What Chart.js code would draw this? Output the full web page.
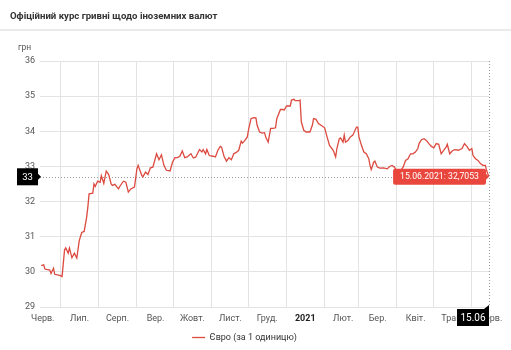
<!DOCTYPE html>
<html lang="uk">
<head>
<meta charset="utf-8">
<title>Офіційний курс гривні щодо іноземних валют</title>
<script src="https://cdn.jsdelivr.net/npm/chart.js@4.4.1/dist/chart.umd.min.js"></script>
<style>
  html, body { margin: 0; padding: 0; background: #fff; }
  body { width: 511px; height: 350px; position: relative; overflow: hidden; font-family: Roboto, sans-serif; }
  .title { position: absolute; left: 10px; top: 10px; font-size: 9.6px; font-weight: 700; color: #333; white-space: nowrap; }
  .sep { position: absolute; left: 0; right: 0; top: 29px; height: 2px; background: #ebebeb; }
  .unit { position: absolute; left: 18px; top: 42px; font-size: 8.5px; color: #555; }
  .wrap { position: absolute; left: 0; top: 0; width: 511px; height: 350px; }
</style>
</head>
<body>
<div class="wrap"><canvas id="rateChart"></canvas></div>
<div class="title">Офіційний курс гривні щодо іноземних валют</div>
<div class="sep"></div>
<div class="unit">грн</div>
<script>
// Курс євро, грн за 1 одиницю
const rateDates = [
  "2020-06-15", "2020-06-17", "2020-06-18", "2020-06-22", "2020-06-23", "2020-06-25", "2020-06-26", "2020-06-30",
  "2020-07-02", "2020-07-04", "2020-07-05", "2020-07-07", "2020-07-08", "2020-07-10", "2020-07-12", "2020-07-14",
  "2020-07-16", "2020-07-18", "2020-07-20", "2020-07-22", "2020-07-23", "2020-07-24", "2020-07-27", "2020-07-28",
  "2020-07-29", "2020-07-31", "2020-08-02", "2020-08-03", "2020-08-05", "2020-08-07", "2020-08-09", "2020-08-11",
  "2020-08-12", "2020-08-14", "2020-08-17", "2020-08-18", "2020-08-21", "2020-08-23", "2020-08-25", "2020-08-27",
  "2020-08-30", "2020-09-01", "2020-09-02", "2020-09-05", "2020-09-06", "2020-09-08", "2020-09-10", "2020-09-12",
  "2020-09-14", "2020-09-17", "2020-09-19", "2020-09-21", "2020-09-23", "2020-09-25", "2020-09-28", "2020-09-30",
  "2020-10-02", "2020-10-04", "2020-10-06", "2020-10-08", "2020-10-10", "2020-10-12", "2020-10-15", "2020-10-17",
  "2020-10-19", "2020-10-22", "2020-10-24", "2020-10-25", "2020-10-27", "2020-10-28", "2020-10-30", "2020-11-02",
  "2020-11-04", "2020-11-06", "2020-11-08", "2020-11-09", "2020-11-11", "2020-11-13", "2020-11-15", "2020-11-17",
  "2020-11-19", "2020-11-21", "2020-11-23", "2020-11-25", "2020-11-26", "2020-11-28", "2020-11-30", "2020-12-01",
  "2020-12-03", "2020-12-05", "2020-12-07", "2020-12-08", "2020-12-10", "2020-12-12", "2020-12-14", "2020-12-15",
  "2020-12-17", "2020-12-19", "2020-12-21", "2020-12-23", "2020-12-24", "2020-12-27", "2020-12-29", "2020-12-30",
  "2021-01-01", "2021-01-04", "2021-01-05", "2021-01-07", "2021-01-08", "2021-01-11", "2021-01-12", "2021-01-13",
  "2021-01-15", "2021-01-17", "2021-01-20", "2021-01-22", "2021-01-23", "2021-01-25", "2021-01-27", "2021-01-30",
  "2021-02-01", "2021-02-03", "2021-02-05", "2021-02-08", "2021-02-10", "2021-02-11", "2021-02-13", "2021-02-14",
  "2021-02-16", "2021-02-17", "2021-02-18", "2021-02-20", "2021-02-22", "2021-02-24", "2021-02-27", "2021-02-28",
  "2021-03-01", "2021-03-03", "2021-03-05", "2021-03-07", "2021-03-09", "2021-03-10", "2021-03-11", "2021-03-13",
  "2021-03-14", "2021-03-16", "2021-03-18", "2021-03-21", "2021-03-24", "2021-03-26", "2021-03-28", "2021-03-30",
  "2021-03-31", "2021-04-02", "2021-04-04", "2021-04-06", "2021-04-08", "2021-04-10", "2021-04-12", "2021-04-14",
  "2021-04-16", "2021-04-18", "2021-04-19", "2021-04-21", "2021-04-23", "2021-04-25", "2021-04-27", "2021-04-29",
  "2021-05-01", "2021-05-03", "2021-05-05", "2021-05-07", "2021-05-09", "2021-05-11", "2021-05-12", "2021-05-14",
  "2021-05-16", "2021-05-18", "2021-05-21", "2021-05-24", "2021-05-26", "2021-05-28", "2021-05-30", "2021-06-01",
  "2021-06-02", "2021-06-04", "2021-06-06", "2021-06-08", "2021-06-10", "2021-06-12", "2021-06-13", "2021-06-14",
  "2021-06-15"
];
const euroRates = [
  30.18, 30.20, 30.08, 30.05, 29.95, 30.10, 29.93, 29.90,
  29.87, 30.62, 30.68, 30.53, 30.68, 30.40, 30.53, 30.39,
  30.89, 31.12, 31.15, 31.55, 31.84, 32.22, 32.24, 32.50,
  32.43, 32.58, 32.55, 32.74, 32.52, 32.87, 32.77, 32.50,
  32.46, 32.49, 32.36, 32.43, 32.58, 32.55, 32.27, 32.36,
  32.41, 32.93, 33.03, 32.74, 32.71, 32.84, 32.77, 32.96,
  32.98, 33.36, 33.19, 33.33, 33.03, 32.89, 32.87, 33.12,
  33.25, 33.25, 33.29, 33.44, 33.25, 33.27, 33.36, 33.24,
  33.27, 33.48, 33.41, 33.48, 33.36, 33.48, 33.31, 33.29,
  33.27, 33.46, 33.57, 33.55, 33.29, 33.15, 33.25, 33.19,
  33.36, 33.40, 33.46, 33.72, 33.66, 33.74, 33.84, 34.05,
  34.36, 34.39, 34.38, 34.17, 33.98, 33.95, 33.96, 33.84,
  33.69, 34.08, 34.08, 34.10, 34.36, 34.62, 34.62, 34.60,
  34.72, 34.72, 34.89, 34.91, 34.87, 34.87, 34.89, 34.27,
  34.03, 33.98, 33.98, 34.17, 34.36, 34.34, 34.22, 34.15,
  34.10, 33.84, 33.60, 33.46, 33.27, 33.51, 33.79, 33.81,
  33.69, 33.89, 33.69, 33.74, 33.84, 33.89, 34.12, 34.12,
  33.84, 33.60, 33.41, 33.36, 33.22, 33.03, 32.91, 33.12,
  33.15, 32.98, 32.95, 32.96, 32.93, 33.00, 33.03, 32.98,
  32.91, 32.89, 32.88, 32.98, 33.17, 33.22, 33.36, 33.36,
  33.41, 33.51, 33.65, 33.76, 33.79, 33.74, 33.65, 33.57,
  33.53, 33.65, 33.63, 33.36, 33.46, 33.55, 33.63, 33.36,
  33.44, 33.48, 33.46, 33.51, 33.65, 33.57, 33.46, 33.51,
  33.31, 33.22, 33.17, 33.08, 33.03, 33.03, 32.89, 32.79,
  32.7053
];

// Межі місяців (сітка) і підписи посередині місяців
const gridDates = [
  "2020-07-01", "2020-08-01", "2020-09-01", "2020-10-01", "2020-11-01", "2020-12-01",
  "2021-01-01", "2021-02-01", "2021-03-01", "2021-04-01", "2021-05-01", "2021-06-01"
];
const labelDates = [
  "2020-06-15", "2020-07-15", "2020-08-15", "2020-09-15", "2020-10-15", "2020-11-15", "2020-12-15",
  "2021-01-15", "2021-02-15", "2021-03-15", "2021-04-15", "2021-05-15", "2021-06-15"
];
const monthLabels = ["Черв.", "Лип.", "Серп.", "Вер.", "Жовт.", "Лист.", "Груд.", "2021", "Лют.", "Бер.", "Квіт.", "Трав.", "Черв."];
const yTicks = [29, 30, 31, 32, 33, 34, 35, 36];

const DAY = 86400000;
const startDate = Date.UTC(2020, 5, 14);
function toDay(s) {
  const [y, m, d] = s.split("-").map(Number);
  return Math.round((Date.UTC(y, m - 1, d) - startDate) / DAY);
}

const points = rateDates.map((s, i) => ({ x: toDay(s), y: euroRates[i] }));
const gridDays = new Set(gridDates.map(toDay));
const labelMap = new Map(labelDates.map((s, i) => [toDay(s), monthLabels[i]]));
const allTicks = [...gridDays, ...labelMap.keys()].sort((a, b) => a - b);

const lineColor = "#dc4a40";
const tipColor = "#e9473d";

function roundRect(ctx, x, y, w, h, r) {
  ctx.beginPath();
  ctx.moveTo(x + r, y);
  ctx.arcTo(x + w, y, x + w, y + h, r);
  ctx.arcTo(x + w, y + h, x, y + h, r);
  ctx.arcTo(x, y + h, x, y, r);
  ctx.arcTo(x, y, x + w, y, r);
  ctx.closePath();
}

// Перехрестя та підказки для останньої точки
const lastPoint = {
  id: "lastPoint",
  beforeDatasetsDraw(chart) {
    const { ctx, chartArea, scales } = chart;
    const p = points[points.length - 1];
    const px = scales.x.getPixelForValue(p.x);
    const py = scales.y.getPixelForValue(p.y);
    ctx.save();
    ctx.strokeStyle = "#9a9a9a";
    ctx.lineWidth = 1;
    ctx.setLineDash([1, 2]);
    ctx.beginPath();
    ctx.moveTo(chartArea.left, Math.round(py) + 0.5);
    ctx.lineTo(px, Math.round(py) + 0.5);
    ctx.moveTo(Math.round(px) + 0.5, chartArea.top);
    ctx.lineTo(Math.round(px) + 0.5, chartArea.bottom);
    ctx.stroke();
    ctx.restore();
  },
  afterDraw(chart) {
    const { ctx, chartArea, scales } = chart;
    const i = points.length - 1;
    const p = points[i];
    const px = scales.x.getPixelForValue(p.x);
    const py = scales.y.getPixelForValue(p.y);
    const [yy, mm, dd] = rateDates[i].split("-");
    ctx.save();
    ctx.textBaseline = "middle";
    ctx.textAlign = "center";

    // червона підказка зі значенням
    ctx.font = "8.7px Roboto";
    const text = dd + "." + mm + "." + yy + ": " + euroRates[i].toFixed(4).replace(".", ",");
    const tw = ctx.measureText(text).width + 14;
    const tx = px - 3 - tw;
    ctx.fillStyle = tipColor;
    roundRect(ctx, tx, py - 8, tw, 16, 2);
    ctx.fill();
    ctx.beginPath();
    ctx.moveTo(px - 3.5, py - 3.5);
    ctx.lineTo(px, py);
    ctx.lineTo(px - 3.5, py + 3.5);
    ctx.fill();
    ctx.fillStyle = "#fff";
    ctx.fillText(text, tx + tw / 2, py + 0.5);

    // мітка на осі Y
    ctx.fillStyle = "#000";
    const bx = chartArea.left - 23;
    ctx.fillRect(bx, py - 8.5, 21, 17);
    ctx.beginPath();
    ctx.moveTo(bx + 21, py - 3);
    ctx.lineTo(bx + 24, py);
    ctx.lineTo(bx + 21, py + 3);
    ctx.fill();
    ctx.fillStyle = "#fff";
    ctx.font = "9.5px Roboto";
    ctx.fillText(String(Math.round(p.y)), bx + 10.5, py + 0.5);

    // мітка на осі X
    const top = chartArea.bottom + 2;
    ctx.fillStyle = "#000";
    ctx.fillRect(px - 32, top, 32, 17);
    ctx.beginPath();
    ctx.moveTo(px - 5, top);
    ctx.lineTo(px, top - 4);
    ctx.lineTo(px, top);
    ctx.fill();
    ctx.fillStyle = "#fff";
    ctx.font = "10px Roboto";
    ctx.fillText(dd + "." + mm, px - 16, top + 9);
    ctx.restore();
  }
};

new Chart(document.getElementById("rateChart"), {
  type: "line",
  data: {
    datasets: [
      {
        label: "Євро (за 1 одиницю)",
        data: points,
        borderColor: lineColor,
        backgroundColor: lineColor,
        borderWidth: 1.3,
        pointRadius: 0,
        tension: 0,
        fill: false,
      },
    ],
  },
  options: {
    responsive: true,
    maintainAspectRatio: false,
    animation: false,
    events: [],
    layout: { padding: { top: 61, right: 22, left: 0, bottom: -2 } },
    plugins: {
      tooltip: { enabled: false },
      legend: {
        position: "bottom",
        labels: {
          usePointStyle: true,
          pointStyle: "line",
          pointStyleWidth: 13,
          padding: 0,
          color: "#333",
          font: { family: "Roboto", size: 9 },
        },
      },
    },
    scales: {
      x: {
        type: "linear",
        min: 0,
        max: toDay("2021-06-15"),
        border: { display: false },
        afterBuildTicks: (scale) => {
          scale.ticks = allTicks.map((v) => ({ value: v }));
        },
        afterFit: (scale) => {
          scale.height = 26;
        },
        grid: {
          drawTicks: false,
          color: (c) => (c.tick && gridDays.has(c.tick.value) ? "#e3e3e3" : "rgba(0,0,0,0)"),
        },
        ticks: {
          autoSkip: false,
          maxRotation: 0,
          padding: 6,
          labelOffset: 1.5,
          color: (c) => (c.tick && c.tick.label === "2021" ? "#222" : "#555"),
          font: (c) => ({
            family: "Roboto",
            size: 9,
            weight: c.tick && c.tick.label === "2021" ? "bold" : "normal",
          }),
          callback: (value) => labelMap.get(value) || "",
        },
      },
      y: {
        min: yTicks[0],
        max: yTicks[yTicks.length - 1],
        border: { display: false },
        afterBuildTicks: (scale) => {
          scale.ticks = yTicks.map((v) => ({ value: v }));
        },
        afterFit: (scale) => {
          scale.width = 40;
        },
        grid: { drawTicks: false, color: "#e3e3e3" },
        ticks: {
          padding: 5,
          color: "#555",
          font: { family: "Roboto", size: 9 },
        },
      },
    },
  },
  plugins: [lastPoint],
});
</script>
</body>
</html>
